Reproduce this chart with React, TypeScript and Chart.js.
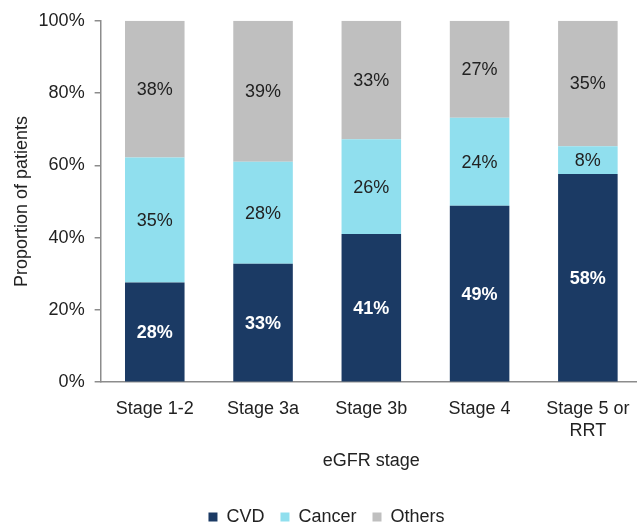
import { useEffect, useRef } from 'react';
import { Chart, registerables } from 'chart.js';
import type { Plugin } from 'chart.js';

Chart.register(...registerables);

const stages = [['Stage 1-2'], ['Stage 3a'], ['Stage 3b'], ['Stage 4'], ['Stage 5 or', 'RRT']];
const cvd = [27.6, 32.8, 41.0, 48.8, 57.6];
const cancer = [34.6, 28.2, 26.2, 24.4, 7.7];
const others = [37.8, 39.0, 32.8, 26.8, 34.7];
const yTicks = [0, 20, 40, 60, 80, 100];

const FONT = '"Liberation Sans", Arial, sans-serif';
const TEXT = '#222222';
const AXIS = '#8c8c8c';

// percentage labels in the middle of every segment
const segmentLabels: Plugin<'bar'> = {
  id: 'segmentLabels',
  afterDatasetsDraw(chart) {
    const ctx = chart.ctx;
    ctx.save();
    ctx.textAlign = 'center';
    ctx.textBaseline = 'middle';
    chart.data.datasets.forEach((ds, di) => {
      const meta = chart.getDatasetMeta(di);
      meta.data.forEach((bar: any, i) => {
        const v = ds.data[i] as number;
        const dark = di === 0;
        ctx.font = `${dark ? 'bold ' : ''}18px ${FONT}`;
        ctx.fillStyle = dark ? '#ffffff' : TEXT;
        ctx.fillText(`${Math.round(v)}%`, bar.x, (bar.y + bar.base) / 2 + 1);
      });
    });
    ctx.restore();
  },
};

export default function App() {
  const ref = useRef<HTMLCanvasElement>(null);
  const chartRef = useRef<Chart | null>(null);

  useEffect(() => {
    if (!ref.current) return;
    chartRef.current?.destroy();
    chartRef.current = new Chart(ref.current, {
      type: 'bar',
      data: {
        labels: stages,
        datasets: [
          { label: 'CVD', data: cvd, backgroundColor: '#1b3a64' },
          { label: 'Cancer', data: cancer, backgroundColor: '#90dfee' },
          { label: 'Others', data: others, backgroundColor: '#bfbfbf' },
        ],
      },
      options: {
        responsive: true,
        maintainAspectRatio: false,
        animation: false,
        layout: { padding: { top: 9, left: 11, right: 0, bottom: -9 } },
        datasets: { bar: { categoryPercentage: 1, barPercentage: 0.55 } },
        plugins: {
          tooltip: { enabled: false },
          legend: {
            position: 'bottom',
            labels: {
              boxWidth: 9, boxHeight: 9, padding: 16,
              color: TEXT, font: { family: FONT, size: 18 },
            },
          },
        },
        scales: {
          x: {
            stacked: true,
            grid: { display: false },
            border: { color: AXIS, width: 1.5 },
            ticks: { color: TEXT, font: { family: FONT, size: 18 }, padding: 8, maxRotation: 0 },
            title: { display: true, text: 'eGFR stage', color: TEXT, font: { family: FONT, size: 18 }, padding: { top: 1, bottom: 20 } },
          },
          y: {
            stacked: true,
            min: 0,
            max: 100,
            afterBuildTicks: axis => { axis.ticks = yTicks.map(v => ({ value: v })); },
            grid: { drawOnChartArea: false, drawTicks: true, tickLength: 6, color: AXIS, lineWidth: 1.5 },
            border: { color: AXIS, width: 1.5 },
            ticks: { color: TEXT, font: { family: FONT, size: 18 }, padding: 10, callback: v => `${v}%` },
            title: { display: true, text: 'Proportion of patients', color: TEXT, font: { family: FONT, size: 18 }, padding: { top: 0, bottom: -4 } },
          },
        },
      },
      plugins: [segmentLabels],
    });
    return () => { chartRef.current?.destroy(); };
  }, []);

  return (
    <div style={{ position: 'fixed', left: 0, top: 0, width: 637, height: 527, overflow: 'hidden', background: '#fff' }}>
      <div style={{ position: 'relative', width: 642, height: 527 }}>
        <canvas ref={ref} />
      </div>
    </div>
  );
}
